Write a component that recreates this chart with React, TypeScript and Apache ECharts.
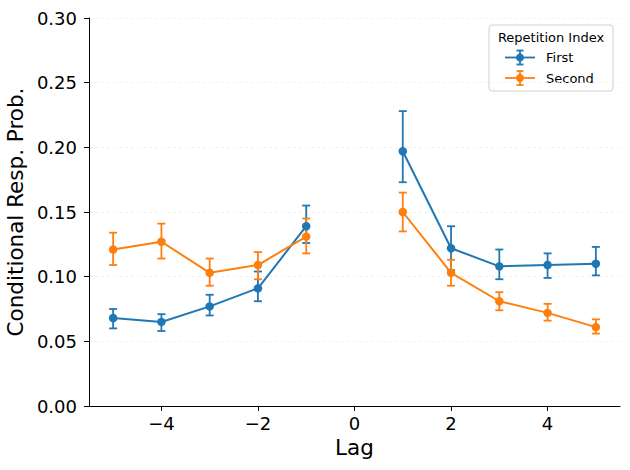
import React, { useEffect, useRef } from "react";
import * as echarts from "echarts";

const lags = [-5, -4, -3, -2, -1, 1, 2, 3, 4, 5];
const firstMean = [0.068, 0.065, 0.077, 0.091, 0.139, 0.197, 0.122, 0.108, 0.109, 0.110];
const firstLow = [0.060, 0.058, 0.070, 0.081, 0.126, 0.173, 0.105, 0.098, 0.099, 0.101];
const firstHigh = [0.075, 0.071, 0.086, 0.104, 0.155, 0.228, 0.139, 0.121, 0.118, 0.123];
const secondMean = [0.121, 0.127, 0.103, 0.109, 0.131, 0.150, 0.103, 0.081, 0.072, 0.061];
const secondLow = [0.109, 0.114, 0.093, 0.098, 0.118, 0.135, 0.093, 0.074, 0.066, 0.056];
const secondHigh = [0.134, 0.141, 0.114, 0.119, 0.145, 0.165, 0.113, 0.088, 0.079, 0.067];
const xTicks = [-4, -2, 0, 2, 4];
const seriesNames = ["First", "Second"];
const colors = ["#1f77b4", "#ff7f0e"];

const FONT = "DejaVu Sans";

function lineData(means: number[]) {
  const out: any[] = [];
  lags.forEach((x, i) => {
    if (x === 1) out.push([0, "-"]);
    out.push([x, means[i]]);
  });
  return out;
}

function errData(lo: number[], hi: number[]) {
  return lags.map((x, i) => [x, lo[i], hi[i]]);
}

function errSeries(name: string, color: string, data: any[]) {
  return {
    type: "custom",
    name: name + " err",
    data,
    z: 3,
    silent: true,
    encode: { x: 0, y: [1, 2] },
    renderItem: (params: any, api: any) => {
      const x = api.value(0);
      const p1 = api.coord([x, api.value(1)]);
      const p2 = api.coord([x, api.value(2)]);
      const w = 4;
      const st = { stroke: color, lineWidth: 1.8 };
      return {
        type: "group",
        children: [
          { type: "line", shape: { x1: p1[0], y1: p1[1], x2: p2[0], y2: p2[1] }, style: st },
          { type: "line", shape: { x1: p1[0] - w, y1: p1[1], x2: p1[0] + w, y2: p1[1] }, style: st },
          { type: "line", shape: { x1: p2[0] - w, y1: p2[1], x2: p2[0] + w, y2: p2[1] }, style: st },
        ],
      };
    },
  };
}

function legendEntry(label: string, color: string, y: number) {
  const st = { stroke: color, lineWidth: 1.8 };
  return [
    { type: "line", shape: { x1: 505, y1: y, x2: 535, y2: y }, style: st },
    { type: "line", shape: { x1: 520, y1: y - 7, x2: 520, y2: y + 7 }, style: st },
    { type: "line", shape: { x1: 516.5, y1: y - 7, x2: 523.5, y2: y - 7 }, style: st },
    { type: "line", shape: { x1: 516.5, y1: y + 7, x2: 523.5, y2: y + 7 }, style: st },
    { type: "circle", shape: { cx: 520, cy: y, r: 4 }, style: { fill: color } },
    {
      type: "text",
      x: 546,
      y: y,
      style: { text: label, fill: "#000", font: `13px "${FONT}"`, verticalAlign: "middle", align: "left" },
    },
  ];
}

export default function App() {
  const ref = useRef<HTMLDivElement>(null);
  useEffect(() => {
    if (!ref.current) return;
    const chart = echarts.init(ref.current, null, { renderer: "svg" });
    const option: any = {
      animation: false,
      backgroundColor: "#fff",
      textStyle: { fontFamily: FONT },
      grid: { left: 89, right: 10, top: 18, bottom: 64, containLabel: false, outerBoundsMode: "none" },
      xAxis: {
        type: "value",
        min: -5.5,
        max: 5.5,
        name: "Lag",
        nameLocation: "middle",
        nameGap: 29,
        nameTextStyle: { fontSize: 21.5, color: "#000", fontFamily: FONT },
        axisLine: { show: true, onZero: false, lineStyle: { color: "#000", width: 1 } },
        axisTick: { show: true, length: 5, customValues: xTicks, lineStyle: { color: "#000", width: 1 } },
        axisLabel: {
          customValues: xTicks,
          fontSize: 18,
          color: "#000",
          fontFamily: FONT,
          margin: 8,
          formatter: (v: number) => String(v).replace("-", "\u2212"),
        },
        splitLine: { show: false },
      },
      yAxis: {
        type: "value",
        min: 0,
        max: 0.3,
        interval: 0.05,
        name: "Conditional Resp. Prob.",
        nameLocation: "middle",
        nameGap: 60,
        nameTextStyle: { fontSize: 21.5, color: "#000", fontFamily: FONT },
        axisLine: { show: true, onZero: false, lineStyle: { color: "#000", width: 1 } },
        axisTick: { show: true, length: 5, lineStyle: { color: "#000", width: 1 } },
        axisLabel: {
          fontSize: 18,
          color: "#000",
          fontFamily: FONT,
          margin: 12,
          formatter: (v: number) => v.toFixed(2),
        },
        splitLine: { show: true, lineStyle: { color: "#ececec", width: 0.7, type: [3, 3] } },
      },
      series: [
        errSeries(seriesNames[0], colors[0], errData(firstLow, firstHigh)),
        errSeries(seriesNames[1], colors[1], errData(secondLow, secondHigh)),
        {
          type: "line",
          name: seriesNames[0],
          data: lineData(firstMean),
          z: 4,
          symbol: "circle",
          symbolSize: 8.5,
          showSymbol: true,
          connectNulls: false,
          lineStyle: { color: colors[0], width: 2 },
          itemStyle: { color: colors[0] },
        },
        {
          type: "line",
          name: seriesNames[1],
          data: lineData(secondMean),
          z: 4,
          symbol: "circle",
          symbolSize: 8.5,
          showSymbol: true,
          connectNulls: false,
          lineStyle: { color: colors[1], width: 2 },
          itemStyle: { color: colors[1] },
        },
      ],
      graphic: [
        {
          type: "group",
          z: 100,
          children: [
            {
              type: "rect",
              shape: { x: 489, y: 25, width: 124, height: 66, r: 3 },
              style: { fill: "rgba(255,255,255,0.8)", stroke: "#d0d0d0", lineWidth: 1 },
            },
            {
              type: "text",
              x: 551,
              y: 37,
              style: {
                text: "Repetition Index",
                fill: "#000",
                font: `13px "${FONT}"`,
                align: "center",
                verticalAlign: "middle",
              },
            },
            ...legendEntry(seriesNames[0], colors[0], 57.5),
            ...legendEntry(seriesNames[1], colors[1], 78),
          ],
        },
      ],
    };
    chart.setOption(option);
    return () => chart.dispose();
  }, []);
  return (
    <div
      ref={ref}
      style={{ position: "absolute", left: 0, top: 0, width: 630, height: 470 }}
    />
  );
}
